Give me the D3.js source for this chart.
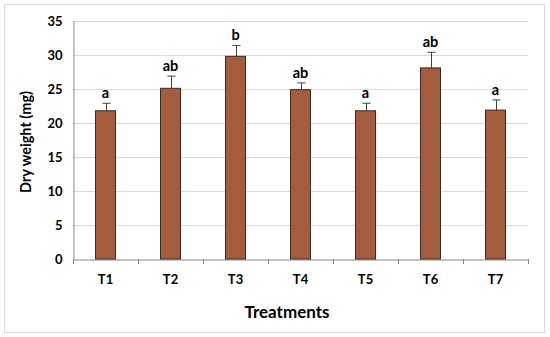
<!DOCTYPE html>
<html><head><meta charset="utf-8">
<script src="https://cdn.jsdelivr.net/npm/d3@7"></script>
<style>body{margin:0;background:#fff;}svg{display:block;font-family:Lato,"Open Sans",sans-serif;}</style>
</head><body>
<svg id="c" width="550" height="337"></svg>
<script>
const categories = ["T1","T2","T3","T4","T5","T6","T7"];
const values = [21.8, 25.1, 29.8, 24.9, 21.8, 28.1, 21.9];
const errors = [1.1, 1.8, 1.6, 1.0, 1.1, 2.3, 1.5];
const letters = ["a","ab","b","ab","a","ab","a"];
const yTicks = [0,5,10,15,20,25,30,35];

const FONT = "Lato,'Open Sans',sans-serif";
const svg = d3.select("#c");
const m = {l:73, r:528, t:21, b:259};
svg.append("rect").attr("x",4.5).attr("y",4.5).attr("width",540).attr("height",328)
  .attr("fill","#fff").attr("stroke","#d9d9d9");

const x = d3.scaleBand().domain(categories).range([m.l,m.r]).paddingInner(0).paddingOuter(0);
const y = d3.scaleLinear().domain([0,35]).range([m.b,m.t]);

// grid
svg.append("g").selectAll("line").data(yTicks.filter(d=>d>0)).join("line")
  .attr("x1",m.l).attr("x2",m.r).attr("y1",d=>Math.round(y(d))+0.5).attr("y2",d=>Math.round(y(d))+0.5)
  .attr("stroke","#d9d9d9").attr("stroke-width",1);

// y axis
const ya = svg.append("g").attr("transform",`translate(${m.l+0.5},0)`)
  .call(d3.axisLeft(y).tickValues(yTicks).tickSize(0).tickPadding(11));
ya.select(".domain").attr("stroke","#868686");
ya.selectAll("text").attr("font-size",13).attr("font-weight","bold").attr("fill","#000")
  .attr("font-family",FONT);

// x axis
const xa = svg.append("g").attr("transform",`translate(0,${m.b+0.5})`)
  .call(d3.axisBottom(x).tickSize(0).tickPadding(15));
xa.select(".domain").attr("stroke","#868686");
xa.selectAll("text").attr("font-size",13).attr("font-weight","bold").attr("fill","#000")
  .attr("font-family",FONT);
const bounds = categories.map(c=>x(c)).concat([m.r]);
svg.append("g").selectAll("line").data(bounds).join("line")
  .attr("x1",d=>Math.round(d)+0.5).attr("x2",d=>Math.round(d)+0.5)
  .attr("y1",m.b).attr("y2",m.b+5).attr("stroke","#868686");

const bw = 20;
// error bars
const eg = svg.append("g");
categories.forEach((c,i)=>{
  const cx = Math.round(x(c)+x.bandwidth()/2)+0.5;
  eg.append("line").attr("x1",cx).attr("x2",cx).attr("y1",y(values[i])).attr("y2",y(values[i]+errors[i]))
    .attr("stroke","#404040").attr("stroke-width",1);
  eg.append("line").attr("x1",cx-4).attr("x2",cx+4).attr("y1",y(values[i]+errors[i])).attr("y2",y(values[i]+errors[i]))
    .attr("stroke","#404040").attr("stroke-width",1);
});

// bars
svg.append("g").selectAll("rect").data(categories).join("rect")
  .attr("x",(c)=>x(c)+x.bandwidth()/2-bw/2).attr("width",bw)
  .attr("y",(c,i)=>y(values[i])).attr("height",(c,i)=>y(0)-y(values[i]))
  .attr("fill","#A45C3F").attr("stroke","#3b2a20").attr("stroke-width",1);

// letters
svg.append("g").selectAll("text").data(categories).join("text")
  .attr("x",c=>x(c)+x.bandwidth()/2).attr("y",(c,i)=>y(values[i]+errors[i])-5)
  .attr("text-anchor","middle").attr("font-size",14.5).attr("font-weight","bold").attr("fill","#000")
  .attr("font-family",FONT).text((c,i)=>letters[i]);

// titles
svg.append("text").attr("x",287).attr("y",318).attr("text-anchor","middle")
  .attr("font-size",17).attr("font-weight","bold").attr("font-family",FONT).text("Treatments");
svg.append("text").attr("transform",`translate(31,${142}) rotate(-90)`).attr("text-anchor","middle")
  .attr("font-size",14.5).attr("font-weight","bold").attr("font-family",FONT).text("Dry weight (mg)");
</script>
</body></html>
